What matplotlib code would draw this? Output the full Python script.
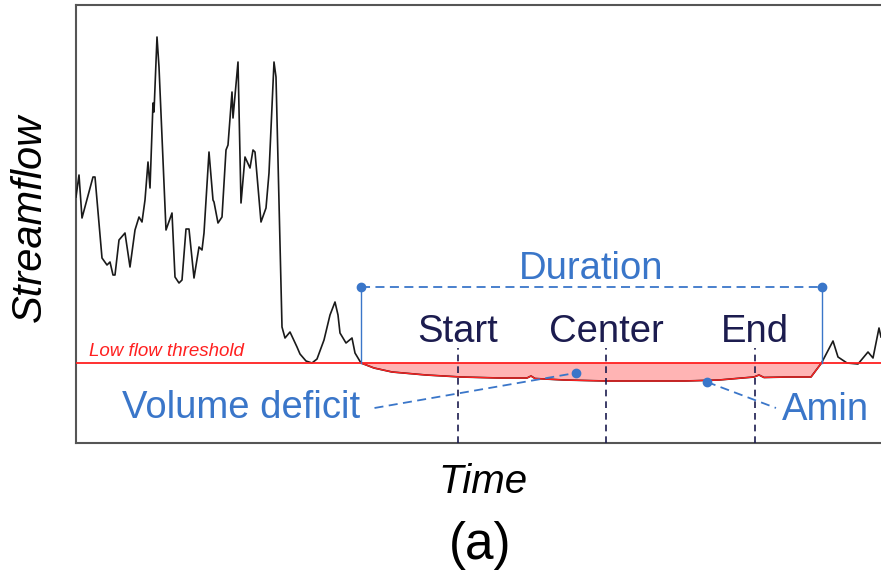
import numpy as np
import matplotlib.pyplot as plt

plt.rcParams['font.family'] = ['Liberation Sans', 'DejaVu Sans']

# streamflow hydrograph (arbitrary units, threshold = 80)
time = [0, 3, 6, 17, 19, 26, 31, 34, 37, 39, 43, 49, 54, 59, 63, 66, 69, 72, 74, 77,
        78, 81, 83, 90, 96, 99, 103, 106, 110, 113, 118, 123, 126, 128, 133, 137, 138,
        142, 146, 150, 152, 156, 157, 162, 165, 169, 174, 177, 179, 185, 190, 193, 198,
        200, 206, 209, 214, 221, 224, 230, 236, 241, 248, 254, 259, 262, 264, 270, 276,
        279, 285, 298, 316, 350, 385, 423, 451, 455, 459, 488, 530, 574, 609, 643, 678,
        683, 688, 712, 735, 745.5, 757, 762, 771, 782, 792, 797, 803, 805]
flow = [246, 268, 225, 266, 266, 185, 178, 181, 168, 168, 203, 210, 176, 213, 226, 221,
        243, 281, 255, 340, 331, 406, 376, 213, 230, 166, 160, 163, 214, 214, 165, 196,
        193, 210, 291, 243, 241, 220, 226, 293, 298, 351, 325, 381, 240, 286, 275, 293,
        291, 221, 235, 270, 381, 366, 116, 105, 111, 96, 89, 82, 80, 84, 103, 128, 141,
        128, 110, 100, 105, 90, 80, 75, 71, 68, 66, 65, 65, 67, 64.5, 63, 62, 62, 62, 63,
        66, 68, 65.5, 66, 66, 80, 102, 86, 80, 79, 91, 85, 115, 106]
threshold = 80

event_start, event_end = 285, 745.5
start_t, center_t, end_t = 382, 530, 679
amin_t, amin_q = 631, 61
deficit_t, deficit_q = 499.5, 70

BLUE = '#3a76c9'
NAVY = '#1c1c4f'
RED = '#ff2020'

time = np.array(time)
flow = np.array(flow)

fig = plt.figure(figsize=(8.81, 5.75), dpi=100)
ax = fig.add_axes([76 / 881, 132 / 575, 805 / 881, 438 / 575])
ax.set_xlim(0, 805)
ax.set_ylim(0, 438)

ax.plot(time, flow, color='#1a1a1a', lw=1.2, zorder=3)
ax.axhline(threshold, color=RED, lw=1.3, zorder=4)
ax.fill_between(time, flow, threshold, where=flow <= threshold, interpolate=True,
                color='#ffb4b4', lw=0, zorder=2)
ev = (time >= event_start) & (time <= event_end)
ax.plot(time[ev], flow[ev], color=RED, lw=1.0, zorder=4)

ax.text(13, 92, 'Low flow threshold', color=RED, fontsize=13.5, style='italic', va='center')

# duration bracket
dur_y = 156
ax.plot([event_start, event_end], [dur_y, dur_y], color=BLUE, lw=1.3, ls=(0, (5, 3)), zorder=5)
for t in (event_start, event_end):
    ax.plot([t, t], [threshold, dur_y], color=BLUE, lw=1.0, zorder=5)
    ax.plot(t, dur_y, 'o', color=BLUE, ms=6, zorder=6)
ax.text((event_start + event_end) / 2, 174, 'Duration', color=BLUE, fontsize=27.5,
        ha='center', va='center')

# start / center / end
for t, lab in ((start_t, 'Start'), (center_t, 'Center'), (end_t, 'End')):
    ax.plot([t, t], [0, 95], color=NAVY, lw=1.2, ls=(0, (4, 3)), zorder=5)
    ax.text(t, 111, lab, color=NAVY, fontsize=27.5, ha='center', va='center')

# volume deficit
ax.plot([298.5, deficit_t], [35, deficit_q], color=BLUE, lw=1.3, ls=(0, (5, 3)), zorder=5)
ax.plot(deficit_t, deficit_q, 'o', color=BLUE, ms=6, zorder=6)
ax.text(284, 35, 'Volume deficit', color=BLUE, fontsize=27.5, ha='right', va='center')

# minimum
ax.plot([amin_t, 700], [amin_q, 35], color=BLUE, lw=1.3, ls=(0, (5, 3)), zorder=5)
ax.plot(amin_t, amin_q, 'o', color=BLUE, ms=6, zorder=6)
ax.text(706, 33, 'Amin', color=BLUE, fontsize=27.5, ha='left', va='center')

ax.set_xticks([])
ax.set_yticks([])
for side in ('left', 'bottom', 'top'):
    ax.spines[side].set_color('#555555')
    ax.spines[side].set_linewidth(1.5)
ax.spines['right'].set_visible(False)

fig.text(30 / 881, 1 - 218 / 575, 'Streamflow', rotation=90, style='italic',
         fontsize=30, ha='center', va='center')
fig.text(483 / 881, 1 - 482 / 575, 'Time', style='italic', fontsize=29,
         ha='center', va='center')
fig.text(480 / 881, 1 - 545 / 575, '(a)', fontsize=37, ha='center', va='center')

fig.savefig('out.png', dpi=100)
